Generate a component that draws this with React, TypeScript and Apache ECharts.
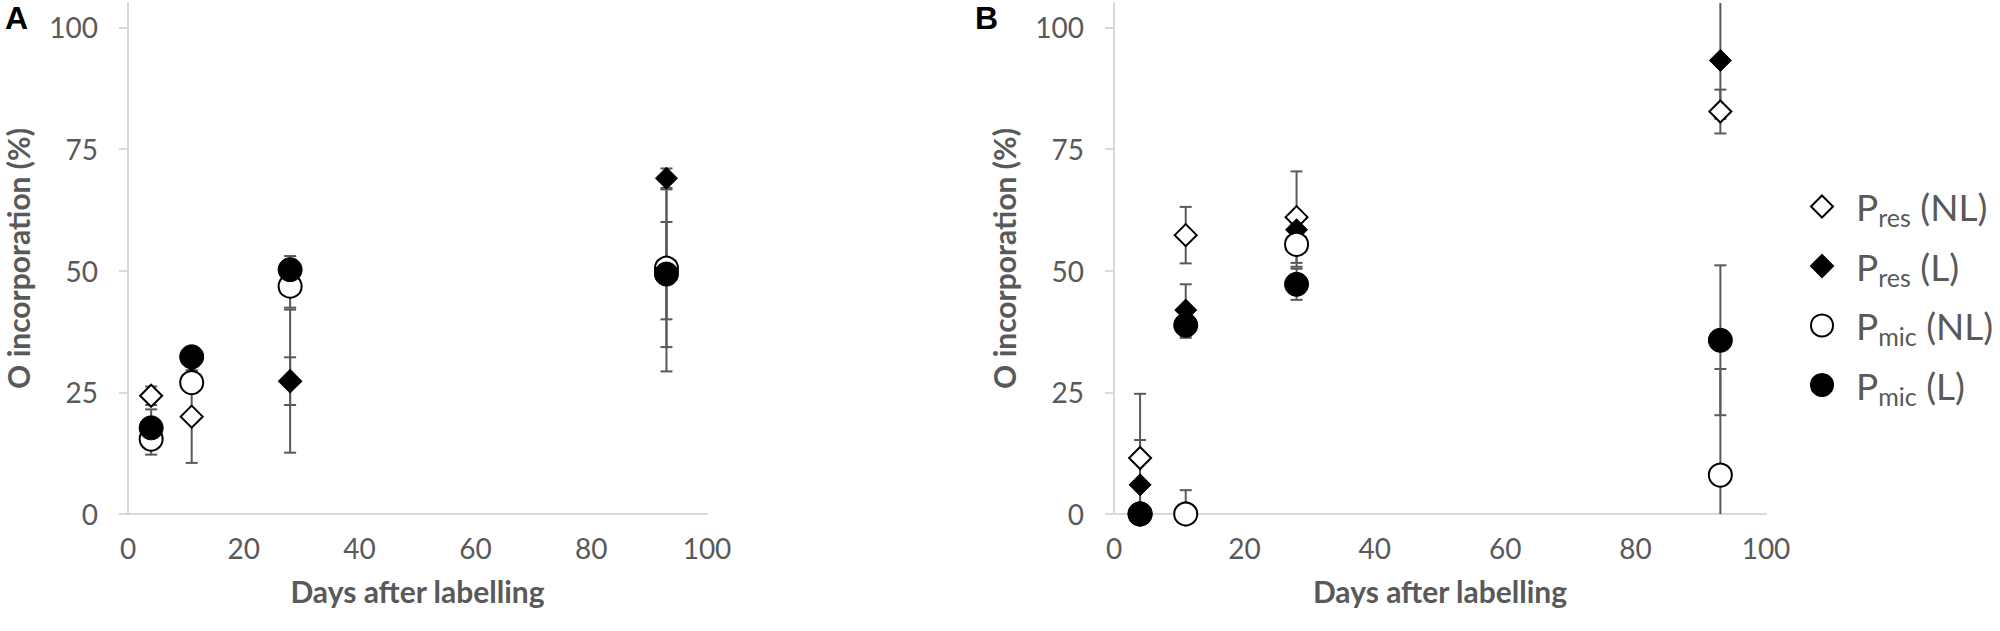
import React, { useEffect, useRef } from "react";
import * as echarts from "echarts";

// ---- data ----
const days = [4, 11, 28, 93];
const yTicks = [0, 25, 50, 75, 100];

// Panel A
const presNL_A = [24.3, 20.0, 27.3, 50.0];
const presNL_A_err = [1.9, 9.5, 14.7, 10.0];
const presL_A = [17.5, 31.5, 27.3, 69.0];
const presL_A_err = [2.0, 2.0, 4.9, 2.0];
const pmicNL_A = [15.4, 27.0, 46.8, 50.5];
const pmicNL_A_err = [3.2, 2.0, 4.4, 16.2];
const pmicL_A = [17.7, 32.3, 50.2, 49.3];
const pmicL_A_err = [3.8, 2.0, 2.8, 20.0];

// Panel B
const presNL_B = [11.5, 57.3, 61.0, 82.7];
const presNL_B_err = [13.2, 5.8, 9.4, 4.5];
const presL_B = [6.0, 41.9, 58.4, 93.2];
const presL_B_err = [9.2, 5.3, 1.5, 12.0];
const pmicNL_B = [0.0, 0.0, 55.4, 8.0];
const pmicNL_B_err = [1.0, 4.9, 4.6, 21.8];
const pmicL_B = [0.0, 38.8, 47.2, 35.7];
const pmicL_B_err = [1.0, 2.6, 3.2, 15.4];

const seriesNames = ["Pres (NL)", "Pres (L)", "Pmic (NL)", "Pmic (L)"];
const legendRich: Record<string, string> = {
  "Pres (NL)": "{p|P}{s|res}{p| (NL)}",
  "Pres (L)": "{p|P}{s|res}{p| (L)}",
  "Pmic (NL)": "{p|P}{s|mic}{p| (NL)}",
  "Pmic (L)": "{p|P}{s|mic}{p| (L)}",
};

const FONT = "Lato, 'Open Sans', sans-serif";
const GRAY = "#595959";
const AXIS = "#d9d9d9";

const styles = [
  { symbol: "diamond", size: 22, itemStyle: { color: "#ffffff", borderColor: "#000000", borderWidth: 2, opacity: 1 } },
  { symbol: "diamond", size: 22, itemStyle: { color: "#000000", borderColor: "#000000", borderWidth: 1, opacity: 1 } },
  { symbol: "circle", size: 23, itemStyle: { color: "#ffffff", borderColor: "#000000", borderWidth: 2, opacity: 1 } },
  { symbol: "circle", size: 24, itemStyle: { color: "#000000", borderColor: "#000000", borderWidth: 1, opacity: 1 } },
];

function errorSeries(gridIndex: number, vals: number[], errs: number[]) {
  return {
    type: "custom",
    xAxisIndex: gridIndex,
    yAxisIndex: gridIndex,
    clip: true,
    silent: true,
    z: 2,
    data: days.map((d, i) => [d, vals[i], errs[i]]),
    encode: { x: 0, y: 1 },
    renderItem: (params: any, api: any) => {
      const x = api.value(0);
      const y = api.value(1);
      const e = api.value(2);
      const top = api.coord([x, y + e]);
      const bot = api.coord([x, y - e]);
      const h = 6;
      const st = { stroke: GRAY, lineWidth: 2 };
      return {
        type: "group",
        children: [
          { type: "line", shape: { x1: top[0], y1: top[1], x2: bot[0], y2: bot[1] }, style: st },
          { type: "line", shape: { x1: top[0] - h, y1: top[1], x2: top[0] + h, y2: top[1] }, style: st },
          { type: "line", shape: { x1: bot[0] - h, y1: bot[1], x2: bot[0] + h, y2: bot[1] }, style: st },
        ],
      };
    },
  };
}

function scatterSeries(gridIndex: number, k: number, vals: number[]) {
  const s = styles[k];
  return {
    type: "scatter",
    name: seriesNames[k],
    xAxisIndex: gridIndex,
    yAxisIndex: gridIndex,
    symbol: s.symbol,
    symbolSize: s.size,
    itemStyle: s.itemStyle,
    z: 3 + k,
    silent: true,
    data: days.map((d, i) => [d, vals[i]]),
  };
}

function xAxis(gridIndex: number) {
  return {
    type: "value",
    gridIndex,
    min: 0,
    max: 100,
    interval: 20,
    splitLine: { show: false },
    axisLine: { show: true, onZero: false, lineStyle: { color: AXIS, width: 2 } },
    axisTick: { show: false },
    axisLabel: { fontSize: 28, color: GRAY, fontFamily: FONT, margin: 20 },
    name: "Days after labelling",
    nameLocation: "middle",
    nameGap: 62,
    nameTextStyle: { fontSize: 30, fontWeight: "bold", color: GRAY, fontFamily: FONT },
  };
}

function yAxis(gridIndex: number) {
  return {
    type: "value",
    gridIndex,
    min: 0,
    max: 105,
    splitLine: { show: false },
    axisLine: { show: true, lineStyle: { color: AXIS, width: 2 } },
    axisTick: { show: true, length: 9, lineStyle: { color: AXIS, width: 2 }, customValues: yTicks },
    axisLabel: { fontSize: 28, color: GRAY, fontFamily: FONT, margin: 30, customValues: yTicks },
    name: "O incorporation (%)",
    nameLocation: "middle",
    nameGap: 95,
    nameTextStyle: { fontSize: 30, fontWeight: "bold", color: GRAY, fontFamily: FONT },
  };
}

export default function App() {
  const ref = useRef<HTMLDivElement>(null);
  useEffect(() => {
    if (!ref.current) return;
    const chart = echarts.init(ref.current, undefined, { renderer: "svg" });
    const A = [presNL_A, presL_A, pmicNL_A, pmicL_A];
    const Ae = [presNL_A_err, presL_A_err, pmicNL_A_err, pmicL_A_err];
    const B = [presNL_B, presL_B, pmicNL_B, pmicL_B];
    const Be = [presNL_B_err, presL_B_err, pmicNL_B_err, pmicL_B_err];
    const series: any[] = [];
    [0, 1, 2, 3].forEach((k) => series.push(errorSeries(0, A[k], Ae[k])));
    [0, 1, 2, 3].forEach((k) => series.push(errorSeries(1, B[k], Be[k])));
    [0, 1, 2, 3].forEach((k) => series.push(scatterSeries(0, k, A[k])));
    [0, 1, 2, 3].forEach((k) => series.push(scatterSeries(1, k, B[k])));

    chart.setOption({
      animation: false,
      backgroundColor: "#ffffff",
      grid: [
        { left: 128, top: 3, width: 579, height: 511 },
        { left: 1114, top: 3, width: 652, height: 511 },
      ],
      xAxis: [xAxis(0), xAxis(1)],
      yAxis: [yAxis(0), yAxis(1)],
      legend: {
        data: seriesNames,
        orient: "vertical",
        left: 1805,
        top: 183,
        itemWidth: 22,
        itemHeight: 22,
        itemGap: 18,
        selectedMode: false,
        formatter: (name: string) => legendRich[name] || name,
        textStyle: {
          color: GRAY,
          fontFamily: FONT,
          padding: [0, 0, 0, 18],
          rich: {
            p: { fontSize: 37, color: GRAY, fontFamily: FONT, lineHeight: 46, verticalAlign: "middle" },
            s: { fontSize: 25, color: GRAY, fontFamily: FONT, lineHeight: 22, verticalAlign: "bottom" },
          },
        },
      },
      graphic: [
        { type: "text", left: 5, top: 2, style: { text: "A", fontSize: 32, fontWeight: "bold", fill: "#000", fontFamily: "'Liberation Sans', Arial, sans-serif" } },
        { type: "text", left: 975, top: 2, style: { text: "B", fontSize: 32, fontWeight: "bold", fill: "#000", fontFamily: "'Liberation Sans', Arial, sans-serif" } },
      ],
      series,
    });
    return () => chart.dispose();
  }, []);
  return (
    <div
      ref={ref}
      style={{ position: "absolute", left: 0, top: 0, width: 2000, height: 631, background: "#fff" }}
    />
  );
}
